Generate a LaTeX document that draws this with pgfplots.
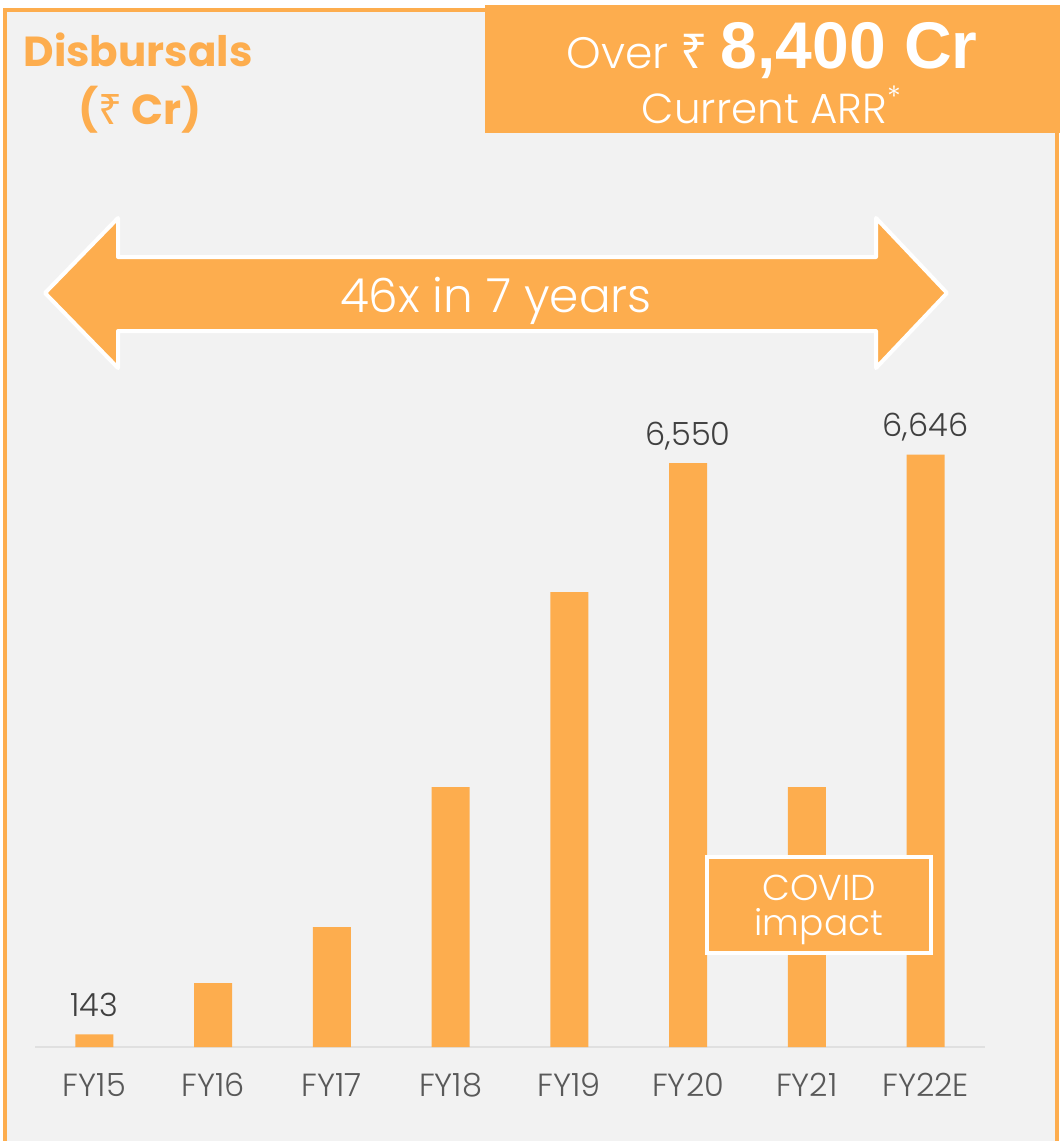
\documentclass[border=0pt]{standalone}
\usepackage{fontspec}
\setmainfont{Poppins}
\newfontfamily\plight{Poppins Light}
\newfontfamily\arialb{Liberation Sans}
\newfontfamily\rup{Noto Sans}
\usepackage{pgfplots}
\pgfplotsset{compat=1.18}
\definecolor{org}{HTML}{FDAD4E}
\definecolor{bg}{HTML}{F2F2F2}
\definecolor{tickc}{HTML}{595959}
\definecolor{labc}{HTML}{404040}
\begin{document}
\begin{tikzpicture}
\begin{scope}[x=0.5pt,y=-0.5pt]
\useasboundingbox (0,0) rectangle (1060,1141);
\fill[white] (0,0) rectangle (1060,1141);
\fill[bg] (5,10) rectangle (1057,1170);
\draw[org,line width=2pt] (5,10) rectangle (1057,1170);
\fill[org] (485,5) rectangle (1060,133);
% titles
\node[org,font=\bfseries\fontsize{21}{24}\selectfont,anchor=base] at (138,66) {Disbursals};
\node[org,font=\bfseries\fontsize{21}{24}\selectfont,anchor=base] at (140,124) {({\rup\bfseries ₹} Cr)};
\node[white,anchor=base] at (772,68) {{\plight\fontsize{22}{24}\selectfont Over }{\rup\fontsize{24}{26}\selectfont ₹ }{\arialb\bfseries\fontsize{33}{36}\selectfont 8,400 Cr}};
\node[white,anchor=base] at (772,123) {\plight\fontsize{21}{24}\selectfont Current ARR\textsuperscript{*}};
% arrow
\draw[white,line width=2pt,fill=org,line join=round] (45,293) -- (118,218) -- (118,257) -- (876,257) -- (876,218) -- (947,293) -- (876,368) -- (876,331) -- (118,331) -- (118,368) -- cycle;
\node[white,font=\plight\fontsize{23.5}{28}\selectfont,anchor=base] at (496,312) {46x in 7 years};
\end{scope}
\begin{axis}[
  at={(17.5pt,-523.5pt)}, anchor=south west, scale only axis,
  width=475pt, height=312pt,
  xmin=-0.5, xmax=7.5, ymin=0, ymax=7000,
  hide y axis, axis x line*=bottom,
  x axis line style={draw=black!12,line width=1pt,-},
  xtick={0,...,7},
  xticklabels={FY15,FY16,FY17,FY18,FY19,FY20,FY21,FY22E},
  major tick length=0pt,
  xticklabel style={font=\plight\fontsize{16}{18}\selectfont, text=tickc, anchor=base, yshift=-24.5pt},
  ybar, bar width=19pt, bar shift=0pt,
  nodes near coords,
  point meta=explicit symbolic,
  every node near coord/.append style={font=\plight\fontsize{16}{18}\selectfont, text=labc, anchor=base, yshift=9pt},
  clip=false,
]
\addplot[fill=org, draw=none] coordinates {(0,143)[143] (1,718)[] (2,1346)[] (3,2916)[] (4,5103)[] (5,6550)[6,550] (6,2916)[] (7,6646)[6,646]};
\end{axis}
\begin{scope}[x=0.5pt,y=-0.5pt]
\draw[white,line width=2pt,fill=org] (707,857) rectangle (931,953);
\node[white,font=\plight\fontsize{18}{21}\selectfont,anchor=base] at (819,900) {COVID};
\node[white,font=\plight\fontsize{18}{21}\selectfont,anchor=base] at (819,935) {impact};
\end{scope}
\end{tikzpicture}
\end{document}
